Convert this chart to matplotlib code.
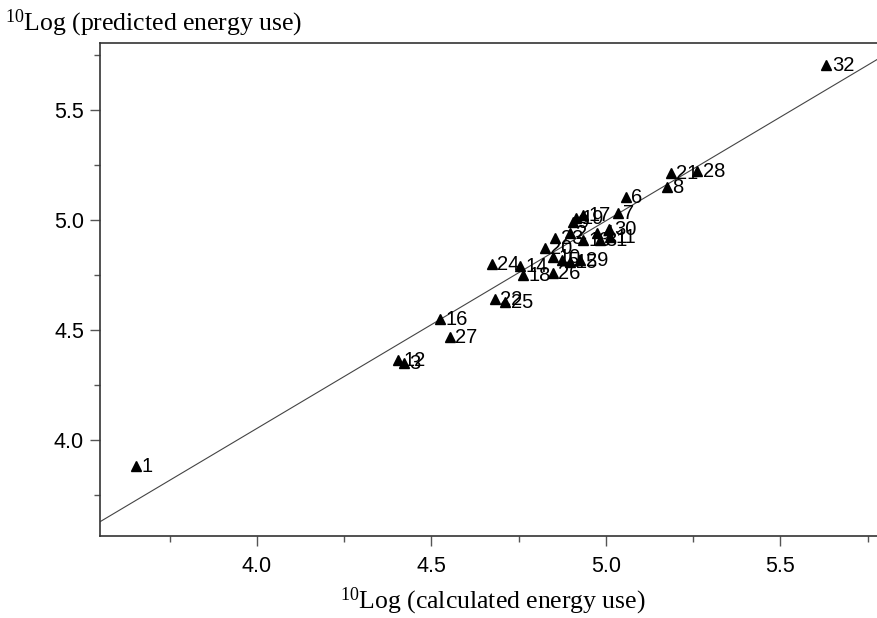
import matplotlib
matplotlib.use("Agg")
import matplotlib.pyplot as plt
from matplotlib.ticker import MultipleLocator

# ---- data ----
labels = ["1", "12", "3", "16", "27", "22", "25", "24", "14", "18", "26",
          "20", "10", "23", "2", "5", "15", "29", "13", "4", "30", "11",
          "31", "9", "19", "17", "7", "6", "8", "21", "28", "32"]
calc = [3.653, 4.404, 4.421, 4.524, 4.553, 4.682, 4.711, 4.673, 4.754, 4.762, 4.848,
        4.825, 4.848, 4.854, 4.897, 4.874, 4.897, 4.926, 4.934, 4.974, 5.009, 5.011,
        4.983, 4.905, 4.914, 4.934, 5.034, 5.057, 5.175, 5.186, 5.261, 5.632]
pred = [3.882, 4.364, 4.350, 4.550, 4.468, 4.641, 4.627, 4.800, 4.791, 4.750, 4.759,
        4.873, 4.832, 4.918, 4.941, 4.818, 4.809, 4.818, 4.909, 4.941, 4.959, 4.923,
        4.909, 4.991, 5.009, 5.023, 5.032, 5.105, 5.150, 5.214, 5.223, 5.705]
fit_intercept = 0.279
fit_slope = 0.9435
xticks = [4.0, 4.5, 5.0, 5.5]
yticks = [4.0, 4.5, 5.0, 5.5]

plt.rcParams["mathtext.fontset"] = "custom"
plt.rcParams["mathtext.rm"] = "Liberation Serif"
plt.rcParams["mathtext.it"] = "Liberation Serif:italic"

W, H = 878, 618
fig = plt.figure(figsize=(W / 100, H / 100), dpi=100)
ax = fig.add_axes([100 / W, 82.3 / H, 785 / W, 492.7 / H])

xmin, xmax = 3.55, 5.8
ymin, ymax = 3.565, 5.805
ax.set_xlim(xmin, xmax)
ax.set_ylim(ymin, ymax)

# regression line
xs = [xmin, xmax]
ax.plot(xs, [fit_intercept + fit_slope * v for v in xs], color="#444444", lw=0.8, zorder=1)

# points
ax.plot(calc, pred, linestyle="none", marker="^", ms=6.5, color="black", zorder=3)
for lab, xv, yv in zip(labels, calc, pred):
    ax.annotate(lab, (xv, yv), xytext=(4.0, -0.5), textcoords="offset points",
                ha="left", va="center", fontsize=14.5, family="Liberation Sans",
                color="black", zorder=4)

ax.set_xticks(xticks)
ax.set_yticks(yticks)
ax.xaxis.set_minor_locator(MultipleLocator(0.25))
ax.yaxis.set_minor_locator(MultipleLocator(0.25))
ax.set_xticklabels([f"{t:.1f}" for t in xticks], family="Liberation Sans", fontsize=15.5)
ax.set_yticklabels([f"{t:.1f}" for t in yticks], family="Liberation Sans", fontsize=15.5)
ax.tick_params(which="major", direction="out", length=7.5, width=1.0, color="#555555", pad=4)
ax.tick_params(which="minor", direction="out", length=4, width=1.0, color="#555555")
ax.tick_params(axis="x", which="major", pad=7)

for side in ["left", "bottom", "top", "right"]:
    ax.spines[side].set_color("#333333")
    ax.spines[side].set_linewidth(1.2)

ax.set_xlabel(r"$^{10}\mathrm{Log\ (calculated\ energy\ use)}$", fontsize=18.5, labelpad=6)
fig.text(5 / W, 1 - 30 / H, r"$^{10}\mathrm{Log\ (predicted\ energy\ use)}$",
         fontsize=18.5, ha="left", va="baseline")

fig.savefig("out.png", dpi=100)
